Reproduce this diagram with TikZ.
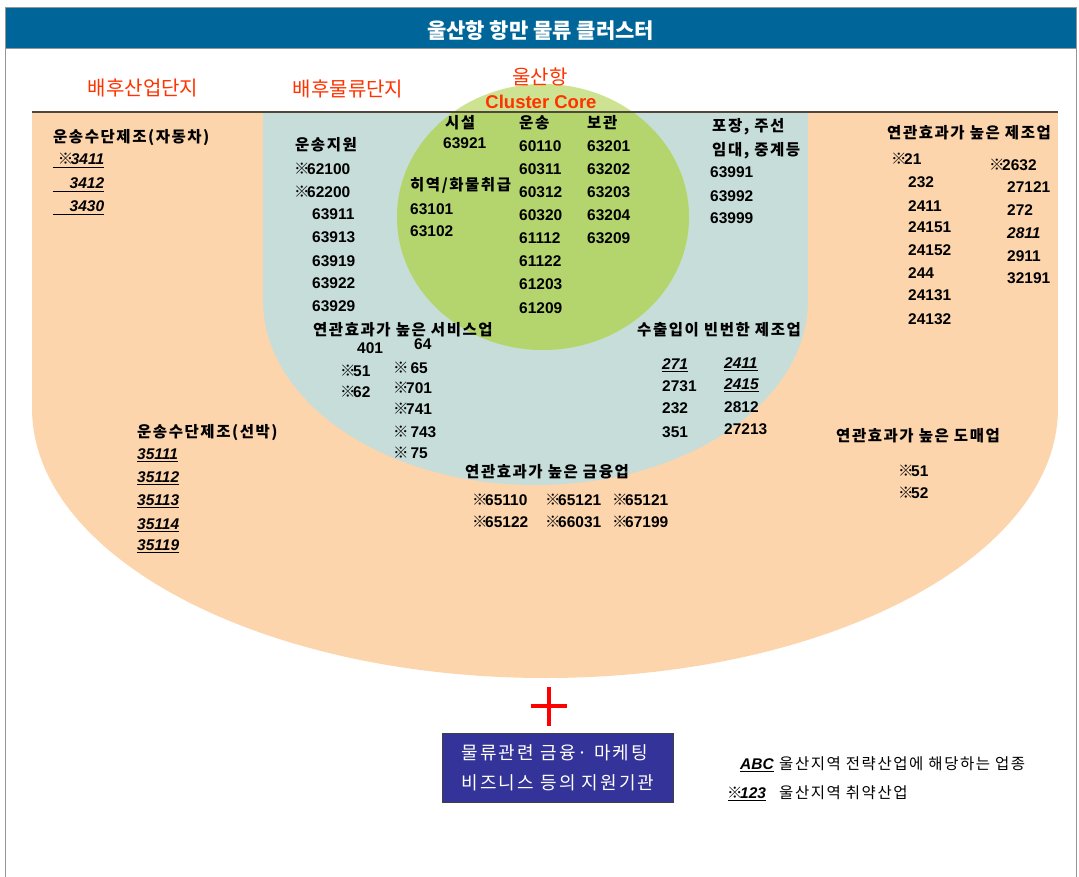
\documentclass[tikz,border=0pt]{standalone}
\usepackage{fontspec}
\setmainfont{Liberation Sans}
\newfontfamily\kr{Noto Sans CJK KR}
\newfontfamily\krs{Noto Sans CJK KR}[LetterSpace=10]
\newfontfamily\krw{Noto Sans CJK KR}[LetterSpace=12]
\definecolor{titleblue}{RGB}{0,102,153}
\definecolor{orangefill}{RGB}{253,213,173}
\definecolor{bluefill}{RGB}{198,221,218}
\definecolor{greenlight}{RGB}{206,227,145}
\definecolor{greendark}{RGB}{180,213,110}
\definecolor{labelred}{RGB}{255,51,0}
\definecolor{boxblue}{RGB}{51,51,153}
\definecolor{framegray}{RGB}{150,150,150}
\definecolor{linebrown}{RGB}{80,70,60}
\newcommand\rmk{{\kr\kern-1pt ※\kern-2.5pt}}
\begin{document}
\begin{tikzpicture}[x=1pt,y=-1pt,
  lbl/.style={anchor=base west,inner sep=0pt,font=\fontsize{15.5}{18}\selectfont\krs\bfseries},
  num/.style={anchor=base west,inner sep=0pt,font=\fontsize{15.5}{18}\selectfont\bfseries},
  zone/.style={anchor=base,inner sep=0pt,text=labelred,font=\fontsize{20}{24}\selectfont\kr},
  legend/.style={anchor=base west,inner sep=0pt,font=\fontsize{15.5}{18}\selectfont\krs},
  ulline/.style={line width=1.3pt,black}
]
\useasboundingbox (0,0) rectangle (1079,877);
\fill[white] (0,0) rectangle (1079,877);
% frame and title
\draw[framegray] (5,48) -- (5,877);
\draw[framegray] (1076,48) -- (1076,877);
\draw[framegray,fill=titleblue] (5,7) rectangle (1076,48);
\node[anchor=base,inner sep=0pt,text=white,font=\fontsize{21}{24}\selectfont\kr\bfseries] (title) at (540.5,39) {울산항 항만 물류 클러스터};
% zones
\fill[orangefill] (32,112) rectangle (1058,408);
\fill[orangefill] (545,408) ellipse [x radius=513, y radius=270];
\fill[bluefill] (263,112) rectangle (808,300);
\fill[bluefill] (535.5,300) ellipse [x radius=272.5, y radius=185];
\fill[greenlight] (543,217) ellipse [x radius=146, y radius=133];
\begin{scope}
\clip (380,112) rectangle (700,360);
\fill[greendark] (543,217) ellipse [x radius=146, y radius=133];
\end{scope}
\draw[linebrown,line width=1.3pt] (32,112) -- (1058,112);
% zone labels
\node[zone] (zind) at (143,96) {배후산업단지};
\node[zone] (zlog) at (348,97) {배후물류단지};
\node[zone] (zport) at (540,85) {울산항};
\node[anchor=base,inner sep=0pt,text=labelred,font=\fontsize{18.5}{22}\selectfont\bfseries] (zcore) at (541,108.5) {Cluster Core};
% car manufacturing
\node[lbl] (carT) at (53,143) {운송수단제조(자동차)};
\node[num] (car1) at (53,165) {\makebox[51pt][r]{\itshape\rmk 3411}};
\node[num] (car2) at (53,189) {\makebox[51pt][r]{\itshape 3412}};
\node[num] (car3) at (53,212) {\makebox[51pt][r]{\itshape 3430}};
\foreach \n in {car1,car2,car3}{\draw[ulline] ([yshift=-2.5pt]\n.base west) -- ([yshift=-2.5pt]\n.base east);}
% transport support
\node[lbl] (supT) at (295,151) {운송지원};
\node[num] (sup1) at (295,175) {\rmk 62100};
\node[num] (sup2) at (295,198) {\rmk 62200};
\node[num] (sup3) at (312,220) {63911};
\node[num] (sup4) at (312,243) {63913};
\node[num] (sup5) at (312,267) {63919};
\node[num] (sup6) at (312,289) {63922};
\node[num] (sup7) at (312,312) {63929};
% core
\node[lbl] (facT) at (445,129) {시설};
\node[num] (fac1) at (443,149) {63921};
\node[lbl] (hanT) at (410,191) {히역/화물취급};
\node[num] (han1) at (410,215) {63101};
\node[num] (han2) at (410,237) {63102};
\node[lbl] (trT) at (519,129) {운송};
\node[num] (tr1) at (519,152) {60110};
\node[num] (tr2) at (519,175) {60311};
\node[num] (tr3) at (519,198) {60312};
\node[num] (tr4) at (519,221) {60320};
\node[num] (tr5) at (519,244) {61112};
\node[num] (tr6) at (519,267) {61122};
\node[num] (tr7) at (519,290) {61203};
\node[num] (tr8) at (519,313) {61209};
\node[lbl] (stT) at (587,129) {보관};
\node[num] (st1) at (587,152) {63201};
\node[num] (st2) at (587,175) {63202};
\node[num] (st3) at (587,198) {63203};
\node[num] (st4) at (587,221) {63204};
\node[num] (st5) at (587,244) {63209};
% packing
\node[lbl] (pkT1) at (712,132) {포장, 주선};
\node[lbl] (pkT2) at (712,156) {임대, 중계등};
\node[num] (pk1) at (710,178) {63991};
\node[num] (pk2) at (710,202) {63992};
\node[num] (pk3) at (710,224) {63999};
% related manufacturing
\node[lbl] (mfT) at (887,139) {연관효과가 높은 제조업};
\node[num] (mf1) at (892,165) {\rmk 21};
\node[num] (mf2) at (908,188) {232};
\node[num] (mf3) at (908,212) {2411};
\node[num] (mf4) at (908,233) {24151};
\node[num] (mf5) at (908,256) {24152};
\node[num] (mf6) at (908,279) {244};
\node[num] (mf7) at (908,301) {24131};
\node[num] (mf8) at (908,324) {24132};
\node[num] (mg1) at (990,171) {\rmk 2632};
\node[num] (mg2) at (1007,193) {27121};
\node[num] (mg3) at (1007,216) {272};
\node[num] (mg4) at (1007,239) {\itshape 2811};
\node[num] (mg5) at (1007,262) {2911};
\node[num] (mg6) at (1007,284) {32191};
% services
\node[lbl] (svT) at (313,335) {연관효과가 높은 서비스업};
\node[num] (sv1) at (357,353) {401};
\node[num] (sv2) at (341,376) {\rmk 51};
\node[num] (sv3) at (341,397) {\rmk 62};
\node[num] (sv4) at (414,349) {64};
\node[num] (sv5) at (394,373) {\rmk\ 65};
\node[num] (sv6) at (394,393) {\rmk 701};
\node[num] (sv7) at (394,414) {\rmk 741};
\node[num] (sv8) at (394,437) {\rmk\ 743};
\node[num] (sv9) at (394,458) {\rmk\ 75};
% export manufacturing
\node[lbl] (exT) at (637,336) {수출입이 빈번한 제조업};
\node[num] (ex1) at (662,369) {\itshape 271};
\node[num] (ex2) at (662,391) {2731};
\node[num] (ex3) at (662,413) {232};
\node[num] (ex4) at (662,437) {351};
\node[num] (ey1) at (724,368) {\itshape 2411};
\node[num] (ey2) at (724,389) {\itshape 2415};
\node[num] (ey3) at (724,412) {2812};
\node[num] (ey4) at (724,434) {27213};
\foreach \n in {ex1,ey1,ey2}{\draw[ulline] ([yshift=-2.5pt]\n.base west) -- ([yshift=-2.5pt]\n.base east);}
% ship manufacturing
\node[lbl] (shT) at (137,437) {운송수단제조(선박)};
\node[num] (sh1) at (137,459) {\itshape 35111};
\node[num] (sh2) at (137,482) {\itshape 35112};
\node[num] (sh3) at (137,505) {\itshape 35113};
\node[num] (sh4) at (137,529) {\itshape 35114};
\node[num] (sh5) at (137,550) {\itshape 35119};
\foreach \n in {sh1,sh2,sh3,sh4,sh5}{\draw[ulline] ([yshift=-2.5pt]\n.base west) -- ([yshift=-2.5pt]\n.base east);}
% finance
\node[lbl] (fnT) at (465,477) {연관효과가 높은 금융업};
\node[num] (fn1) at (473,505) {\rmk 65110};
\node[num] (fn2) at (546,505) {\rmk 65121};
\node[num] (fn3) at (613,505) {\rmk 65121};
\node[num] (fn4) at (473,527) {\rmk 65122};
\node[num] (fn5) at (546,527) {\rmk 66031};
\node[num] (fn6) at (613,527) {\rmk 67199};
% wholesale
\node[lbl] (wsT) at (836,441) {연관효과가 높은 도매업};
\node[num] (ws1) at (899,476) {\rmk 51};
\node[num] (ws2) at (899,498) {\rmk 52};
% plus and support box
\draw[red,line width=4pt] (531,706) -- (567,706);
\draw[red,line width=4pt] (549,687) -- (549,726);
\node[draw=black!75,line width=1pt,fill=boxblue,minimum width=231pt,minimum height=69pt,inner sep=0pt,text=white,align=left,font=\fontsize{18}{30}\selectfont\krw] (support) at (558,767.5) {물류관련 금융· 마케팅\\비즈니스 등의 지원기관};
% legend
\node[num] (abc) at (740,769) {\itshape ABC};
\draw[ulline] ([yshift=-2.5pt]abc.base west) -- ([yshift=-2.5pt]abc.base east);
\node[legend] (abcT) at (779,769) {울산지역 전략산업에 해당하는 업종};
\node[num] (wk) at (728,798) {\itshape\rmk 123};
\draw[ulline] ([yshift=-2.5pt]wk.base west) -- ([yshift=-2.5pt]wk.base east);
\node[legend] (wkT) at (779,798) {울산지역 취약산업};
\end{tikzpicture}
\end{document}
